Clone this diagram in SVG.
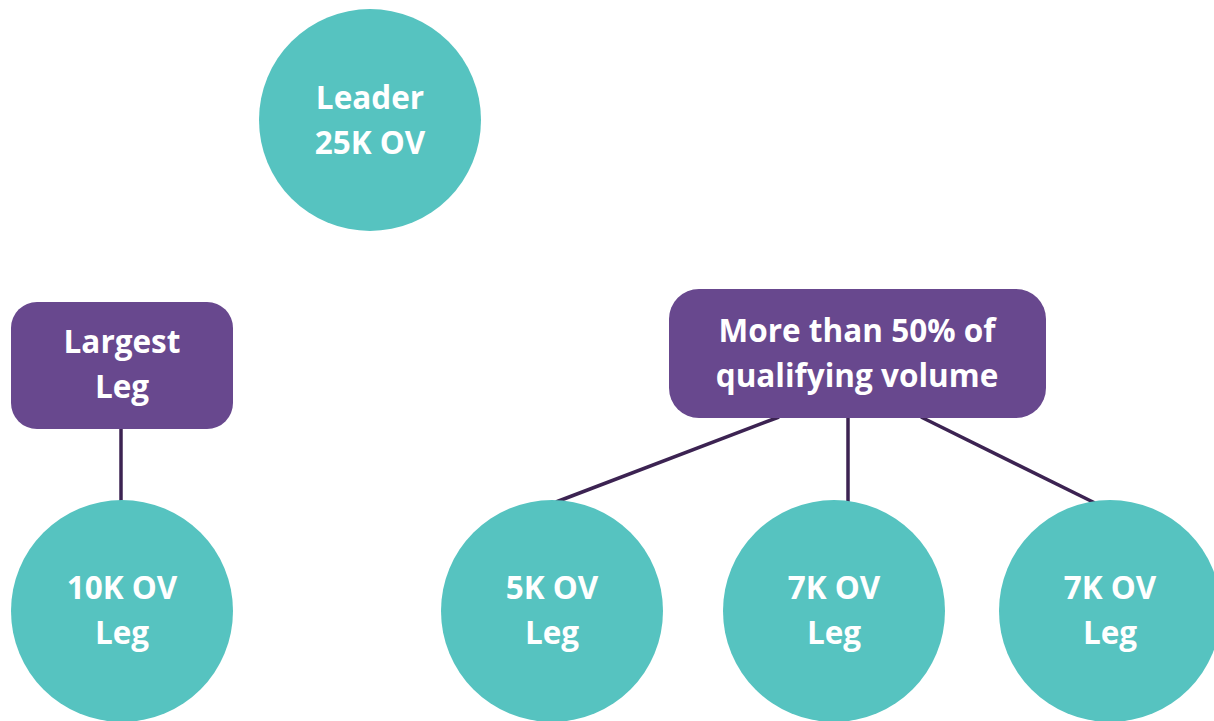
<svg xmlns="http://www.w3.org/2000/svg" width="1214" height="721" viewBox="0 0 1214 721">
<style>
.c{fill:#56C3C0}
.b{fill:#68488E}
.t{font-family:"Open Sans","Liberation Sans",sans-serif;font-weight:bold;font-size:31.5px;fill:#FFFFFF;text-anchor:middle}
.l{stroke:#3C2352;stroke-width:3.5;fill:none}
</style>
<rect width="1214" height="721" fill="#FFFFFF"/>
<g id="connectors">
<line class="l" x1="121" y1="429" x2="121" y2="502"/>
<line class="l" x1="779" y1="417" x2="556" y2="502"/>
<line class="l" x1="848" y1="417" x2="848" y2="502"/>
<line class="l" x1="921" y1="417" x2="1095" y2="503"/>
</g>
<g id="leader">
<circle class="c" cx="370" cy="120" r="111"/>
<text class="t" x="370" y="109">Leader</text>
<text class="t" x="370" y="154">25K OV</text>
</g>
<g id="largest-leg">
<rect class="b" x="11" y="302" width="222" height="127" rx="26"/>
<text class="t" x="122" y="353">Largest</text>
<text class="t" x="122" y="398">Leg</text>
</g>
<g id="more-than-50">
<rect class="b" x="669" y="289" width="377" height="129" rx="30"/>
<text class="t" x="857" y="342">More than 50% of</text>
<text class="t" x="857" y="387">qualifying volume</text>
</g>
<g id="leg-10k">
<circle class="c" cx="122" cy="611" r="111"/>
<text class="t" x="122" y="599">10K OV</text>
<text class="t" x="122" y="644">Leg</text>
</g>
<g id="leg-5k">
<circle class="c" cx="552" cy="611" r="111"/>
<text class="t" x="552" y="599">5K OV</text>
<text class="t" x="552" y="644">Leg</text>
</g>
<g id="leg-7k-a">
<circle class="c" cx="834" cy="611" r="111"/>
<text class="t" x="834" y="599">7K OV</text>
<text class="t" x="834" y="644">Leg</text>
</g>
<g id="leg-7k-b">
<circle class="c" cx="1110" cy="611" r="111"/>
<text class="t" x="1110" y="599">7K OV</text>
<text class="t" x="1110" y="644">Leg</text>
</g>
</svg>
